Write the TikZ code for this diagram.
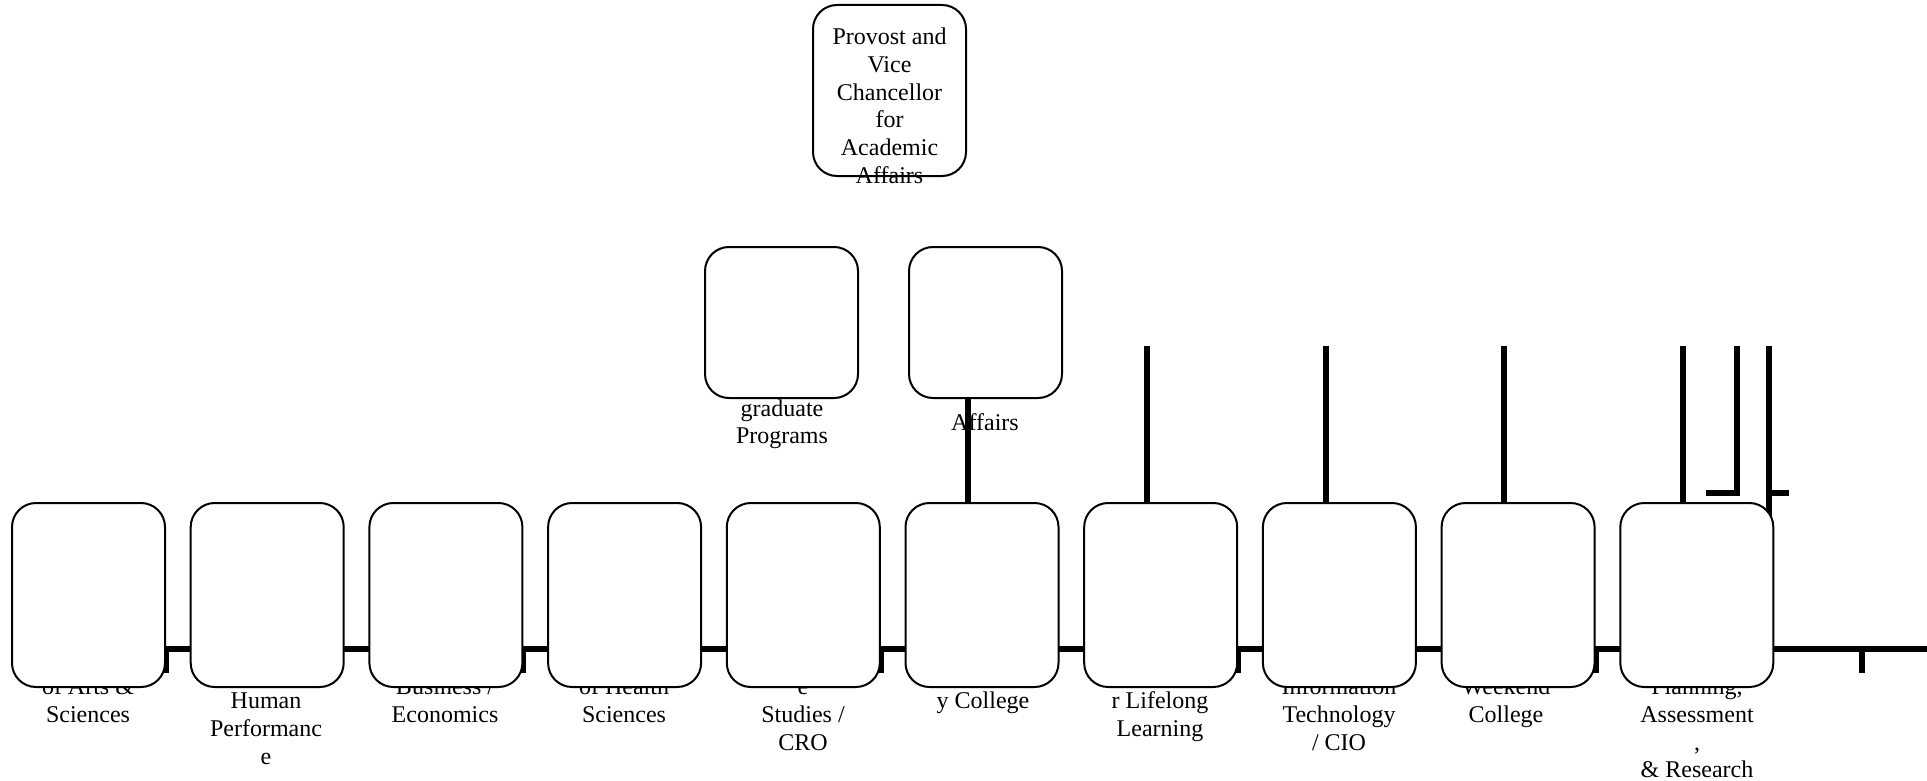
\documentclass[tikz,border=0pt]{standalone}
\usepackage{fontspec}
\setmainfont{Liberation Serif}
\usetikzlibrary{calc}
\pgfdeclarelayer{back}
\pgfdeclarelayer{front}
\pgfsetlayers{back,main,front}
\newcommand\mylines[1]{\begin{tabular}[t]{@{}c@{}}#1\end{tabular}}
\tikzset{
  box/.style={draw, line width=1pt, rounded corners=12pt, fill=white, inner sep=0pt, outer sep=0pt, minimum width=76.5pt},
  lowbox/.style={box, minimum height=92pt},
  midbox/.style={box, minimum height=75.5pt},
  topbox/.style={box, minimum height=85.5pt},
  txt/.style={anchor=base, inner sep=0pt, outer sep=0pt, font=\fontsize{12}{13.9}\selectfont},
  conn/.style={line width=3pt},
}
\begin{document}
\begin{tikzpicture}[x=0.5pt, y=-0.5pt]
\useasboundingbox (0,0) rectangle (1927,781);
% boxes
\node[topbox] (p) at (889.5,90.5) {};
\node[midbox] (m1) at (781.5,322.5) {};
\node[midbox] (m2) at (985.5,322.5) {};
\foreach \i/\x in {1/88.5, 2/267.2, 3/445.9, 4/624.6, 5/803.3, 6/982.0, 7/1160.7, 8/1339.4, 9/1518.1, 10/1696.8}
  \node[lowbox] (r\i) at (\x,595) {};
\begin{pgfonlayer}{front}
\node[txt] (pt) at (889.5,44.5) {\mylines{Provost and\\Vice\\Chancellor\\for\\Academic\\Affairs}};
\end{pgfonlayer}
\begin{pgfonlayer}{back}
\fill[white] (0,0) rectangle (1927,781);
% texts (partly hidden behind the boxes)
\node[txt] (tm1) at (782,416) {\mylines{graduate\\Programs}};
\node[txt] (tm2) at (985,430) {\mylines{Affairs}};
\node[txt] (t1) at (88,694.5) {\mylines{of Arts \&\\Sciences}};
\node[txt] (t2) at (266,708.5) {\mylines{Human\\Performanc\\e}};
\node[txt] (t3) at (445,694.5) {\mylines{Business /\\Economics}};
\node[txt] (t4) at (624,694.5) {\mylines{of Health\\Sciences}};
\node[txt] (t5) at (803,694.5) {\mylines{e\\Studies /\\CRO}};
\node[txt] (t6) at (983,708.5) {\mylines{y College}};
\node[txt] (t7) at (1160,708.5) {\mylines{r Lifelong\\Learning}};
\node[txt] (t8) at (1339,694.5) {\mylines{Information\\Technology\\/ CIO}};
\node[txt] (t9) at (1506,694.5) {\mylines{Weekend\\College}};
\node[txt] (t10) at (1697,694.5) {\mylines{Planning,\\Assessment\\,\\\& Research}};
% connectors
\coordinate (v6) at (968,450);
\draw[conn] (m2.south -| v6) -- (r6.north -| v6);
\foreach \i/\x in {7/1146.5, 8/1325.5, 9/1504, 10/1683} {
  \coordinate (v\i) at (\x,346);
  \draw[conn] (v\i) -- (r\i.north -| v\i);
}
\coordinate (va) at (1737,346);
\coordinate (vb) at (1706,493);
\draw[conn] (va) |- (vb);
\coordinate (vc) at (1769,346);
\coordinate (vd) at (1789,493);
\draw[conn] (vc) -- (vc |- r10.center);
\draw[conn] (vc |- vd) -- (vd);
\coordinate (be) at (1927,649);
\draw[conn] (r1.center |- be) -- (be);
\foreach \n in {r1,r3,r5,r7,r9}
  \draw[conn] ($(\n.east |- be)+(1,0)$) -- ++(0,24);
\coordinate (s11) at (1862,649);
\draw[conn] (s11) -- ++(0,24);
\end{pgfonlayer}
\end{tikzpicture}
\end{document}
